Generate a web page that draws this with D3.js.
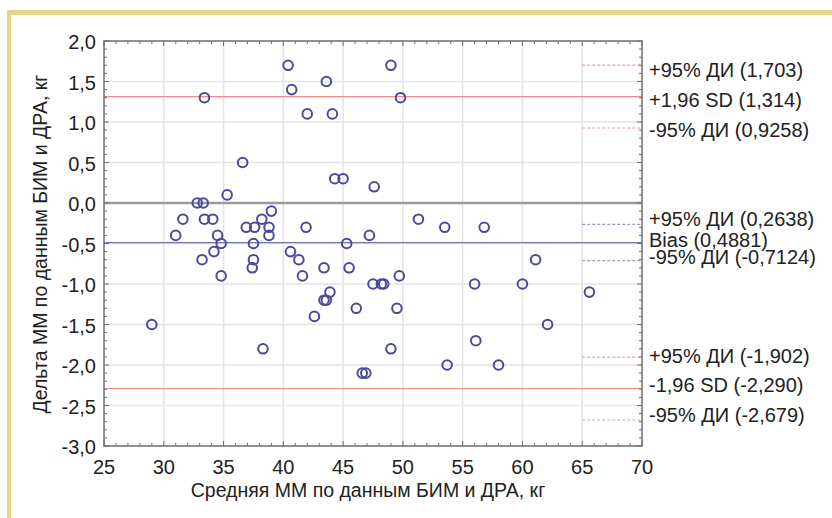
<!DOCTYPE html>
<html lang="ru">
<head>
<meta charset="utf-8">
<title>Bland-Altman</title>
<script src="https://cdn.jsdelivr.net/npm/d3@7/dist/d3.min.js"></script>
<style>
  body { margin: 0; background: #fff; }
  text { font-family: "Liberation Sans", Arial, sans-serif; fill: #222; }
</style>
</head>
<body>
<script type="text/javascript">

// points: mean of the two methods (x) and their difference (y)
var meanVals = [33.4, 40.4, 40.7, 43.6, 42.0, 44.1, 36.6, 35.3, 32.8, 33.3,
                44.3, 45.0, 49.0, 49.8, 47.6, 31.6, 33.4, 34.1, 31.0, 34.5,
                34.8, 34.2, 33.2, 34.8, 29.0, 36.9, 37.6, 38.2, 39.0, 38.8,
                38.8, 37.5, 37.5, 37.4, 41.9, 40.6, 41.3, 41.6, 43.4, 45.3,
                45.5, 43.9, 43.4, 43.6, 46.1, 42.6, 38.3, 51.3, 53.5, 56.8,
                47.2, 61.1, 49.7, 47.5, 48.2, 48.4, 56.0, 60.0, 65.6, 49.5,
                62.1, 56.1, 49.0, 53.7, 58.0, 46.6, 46.9];
var diffVals = [1.3, 1.7, 1.4, 1.5, 1.1, 1.1, 0.5, 0.1, 0.0, 0.0,
                0.3, 0.3, 1.7, 1.3, 0.2, -0.2, -0.2, -0.2, -0.4, -0.4,
                -0.5, -0.6, -0.7, -0.9, -1.5, -0.3, -0.3, -0.2, -0.1, -0.3,
                -0.4, -0.5, -0.7, -0.8, -0.3, -0.6, -0.7, -0.9, -0.8, -0.5,
                -0.8, -1.1, -1.2, -1.2, -1.3, -1.4, -1.8, -0.2, -0.3, -0.3,
                -0.4, -0.7, -0.9, -1.0, -1.0, -1.0, -1.0, -1.0, -1.1, -1.3,
                -1.5, -1.7, -1.8, -2.0, -2.0, -2.1, -2.1];

var xTicks = [25, 30, 35, 40, 45, 50, 55, 60, 65, 70];
var yTicks = [2.0, 1.5, 1.0, 0.5, 0.0, -0.5, -1.0, -1.5, -2.0, -2.5, -3.0];

// reference lines on the right
var refValues = [1.703, 1.314, 0.9258, -0.2638, -0.4881, -0.7124, -1.902, -2.290, -2.679];
var refKinds  = ["ci", "sd", "ci", "bci", "bias", "bci", "ci", "sd", "ci"];
var refLabels = ["+95% ДИ (1,703)", "+1,96 SD (1,314)", "-95% ДИ (0,9258)",
                 "+95% ДИ (0,2638)", "Bias (0,4881)", "-95% ДИ (-0,7124)",
                 "+95% ДИ (-1,902)", "-1,96 SD (-2,290)", "-95% ДИ (-2,679)"];

var xTitle = "Средняя ММ по данным БИМ и ДРА, кг";
var yTitle = "Дельта ММ по данным БИМ и ДРА, кг";

// layout
var width = 832, height = 518;
var plotL = 104, plotR = 642, plotT = 41, plotB = 446;
var labelShift = [5, 3.5, 1.5, -5, -2.5, -4, -1.5, -3, -4.5];

var svg = d3.select("body").append("svg")
            .attr("width", width)
            .attr("height", height);

// yellow frame (top + left)
svg.append("rect").attr("x", 7).attr("y", 10).attr("width", width - 7).attr("height", 5).attr("fill", "#e4d888");
svg.append("rect").attr("x", 7).attr("y", 10).attr("width", 4).attr("height", height - 10).attr("fill", "#e4d888");

var x = d3.scaleLinear().domain([25, 70]).range([plotL, plotR]);
var y = d3.scaleLinear().domain([-3, 2]).range([plotB, plotT]);

// grid
function gridColor(v) {
  if (v == 1.5) return "#d6eaf2";
  if (v == -2.5) return "#dcefd8";
  return "#e3e3e3";
}
svg.append("g").selectAll("line")
   .data(xTicks.slice(1, -1))
   .enter().append("line")
   .attr("x1", function(d){ return x(d); })
   .attr("x2", function(d){ return x(d); })
   .attr("y1", plotT).attr("y2", plotB)
   .attr("stroke", "#e3e3e3").attr("stroke-width", 1.5);
svg.append("g").selectAll("line")
   .data(yTicks.slice(1, -1))
   .enter().append("line")
   .attr("x1", plotL).attr("x2", plotR)
   .attr("y1", function(d){ return y(d); })
   .attr("y2", function(d){ return y(d); })
   .attr("stroke", gridColor).attr("stroke-width", 1.5);

// zero line
svg.append("line")
   .attr("x1", plotL).attr("x2", plotR)
   .attr("y1", y(0)).attr("y2", y(0))
   .attr("stroke", "#9a9a9a").attr("stroke-width", 2.5);

// reference lines: full lines for bias / sd, short dashes for CI
var refG = svg.append("g");
refValues.forEach(function(v, i){
  var k = refKinds[i];
  var ln = refG.append("line")
               .attr("y1", y(v)).attr("y2", y(v));
  if (k == "sd") {
    ln.attr("x1", plotL).attr("x2", plotR).attr("stroke", "#ee8a8a").attr("stroke-width", 1.2);
  } else if (k == "bias") {
    ln.attr("x1", plotL).attr("x2", plotR).attr("stroke", "#7474ae").attr("stroke-width", 1.2);
  } else {
    ln.attr("x1", x(65)).attr("x2", plotR)
      .attr("stroke", k == "bci" ? "#9c9cc4" : "#e0a0ac")
      .attr("stroke-width", 1.2)
      .attr("stroke-dasharray", "3,2");
  }
});

// points
svg.append("g").selectAll("circle")
   .data(meanVals)
   .enter().append("circle")
   .attr("cx", function(d){ return x(d); })
   .attr("cy", function(d, i){ return y(diffVals[i]); })
   .attr("r", 4.8)
   .attr("fill", "none")
   .attr("stroke", "#4a4a9c")
   .attr("stroke-width", 2);

// frame with minor ticks
var frame = svg.append("g").attr("stroke", "#6e6e6e");
frame.append("rect")
     .attr("x", plotL).attr("y", plotT)
     .attr("width", plotR - plotL).attr("height", plotB - plotT)
     .attr("fill", "none").attr("stroke-width", 1.5);
d3.range(25, 70.01, 1).forEach(function(v){
  var len = (v % 5 == 0) ? 5 : 3;
  frame.append("line").attr("x1", x(v)).attr("x2", x(v)).attr("y1", plotB).attr("y2", plotB - len);
  frame.append("line").attr("x1", x(v)).attr("x2", x(v)).attr("y1", plotT).attr("y2", plotT + len);
});
d3.range(-30, 20.1, 1).forEach(function(t){
  var v = t / 10;
  var len = (t % 5 == 0) ? 5 : 3;
  frame.append("line").attr("x1", plotL).attr("x2", plotL + len).attr("y1", y(v)).attr("y2", y(v));
  frame.append("line").attr("x1", plotR).attr("x2", plotR - len).attr("y1", y(v)).attr("y2", y(v));
});

// tick labels
var fmt = function(v){ return d3.format(".1f")(v).replace(".", ",").replace("−", "-"); };
svg.append("g").selectAll("text")
   .data(yTicks)
   .enter().append("text")
   .attr("x", 96)
   .attr("y", function(d){ return y(d) + 8; })
   .attr("text-anchor", "end")
   .attr("font-size", 20)
   .text(fmt);
svg.append("g").selectAll("text")
   .data(xTicks)
   .enter().append("text")
   .attr("x", function(d){ return x(d); })
   .attr("y", 474)
   .attr("text-anchor", "middle")
   .attr("font-size", 20)
   .text(function(d){ return d; });

// right side labels
svg.append("g").selectAll("text")
   .data(refLabels)
   .enter().append("text")
   .attr("x", 649)
   .attr("y", function(d, i){ return y(refValues[i]) + labelShift[i] + 7; })
   .attr("font-size", 20)
   .text(function(d){ return d; });

// axis titles
svg.append("text")
   .attr("x", 368).attr("y", 497)
   .attr("text-anchor", "middle")
   .attr("font-size", 19.5)
   .text(xTitle);
svg.append("text")
   .attr("transform", "translate(47,244) rotate(-90)")
   .attr("text-anchor", "middle")
   .attr("font-size", 19.5)
   .text(yTitle);

</script>
</body>
</html>
